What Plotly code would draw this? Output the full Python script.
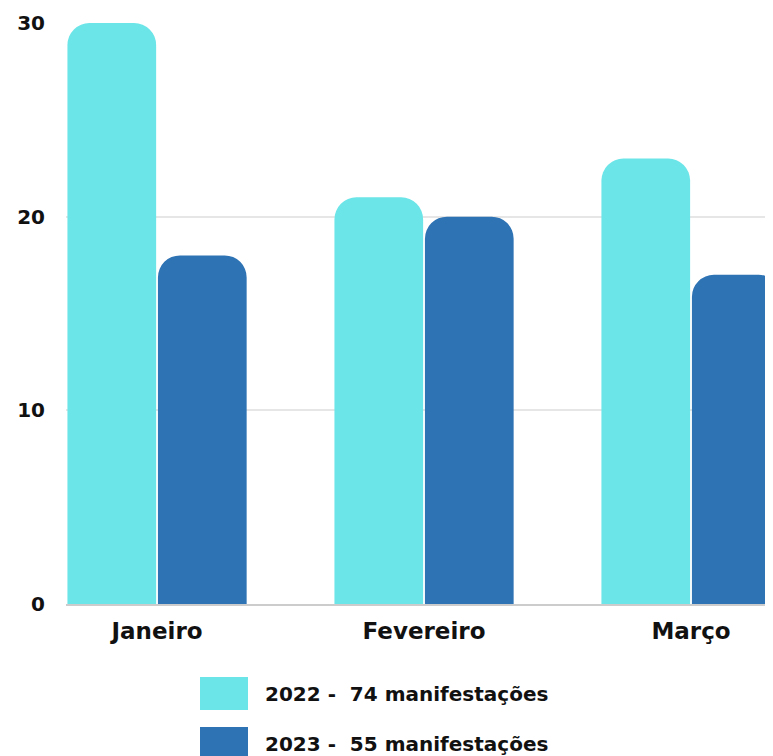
import plotly.graph_objects as go

categories = ["Janeiro", "Fevereiro", "Março"]
values_2022 = [30, 21, 23]
values_2023 = [18, 20, 17]
legend_2022 = "2022 -  74 manifestações"
legend_2023 = "2023 -  55 manifestações"
y_ticks = [0, 10, 20, 30]

c2022 = "#6CE5E8"
c2023 = "#2E73B4"
font_family = "DejaVu Sans"

fig = go.Figure()
fig.add_trace(go.Bar(x=categories, y=values_2022, name=legend_2022,
                     marker=dict(color=c2022, cornerradius=22, line=dict(width=0))))
fig.add_trace(go.Bar(x=categories, y=values_2023, name=legend_2023,
                     marker=dict(color=c2023, cornerradius=22, line=dict(width=0))))

# page body has an 8px margin, so figure coordinates are offset by 8px
OFF = 8
W, H = 773, 756
L, R, T, B = 66 - OFF, 0, 23 - OFF, 152 + OFF
pw, ph = W - L - R, H - T - B

def px(x):
    return (x - OFF - L) / pw

def py(y):
    return (H - B - (y - OFF)) / ph

# manual legend
for (y0, y1, col, txt) in [(677, 710, c2022, legend_2022), (727, 760, c2023, legend_2023)]:
    fig.add_shape(type="rect", xref="paper", yref="paper",
                  x0=px(200), x1=px(248), y0=py(y1), y1=py(y0),
                  fillcolor=col, line=dict(width=0))
    fig.add_annotation(xref="paper", yref="paper", x=px(263), y=py((y0 + y1) / 2),
                       text=txt, showarrow=False, xanchor="left", yanchor="middle",
                       font=dict(family=font_family, size=20, color="#111", weight="bold"))

fig.update_layout(
    width=W, height=H,
    margin=dict(l=L, r=R, t=T, b=B),
    plot_bgcolor="white", paper_bgcolor="white",
    barmode="group", bargap=0.322, bargroupgap=0.02,
    showlegend=False,
    font=dict(family=font_family, color="#111"),
)
fig.update_xaxes(range=[-0.341, 2.337], showgrid=False, showline=True, linecolor="#cccccc",
                 linewidth=1.5, ticks="", ticklabelstandoff=6,
                 tickfont=dict(family=font_family, size=23, color="#111", weight="bold"))
fig.update_yaxes(range=[0, 30], tickvals=y_ticks, showgrid=True, gridcolor="#e6e6e6",
                 gridwidth=1.5, zeroline=False, showline=False, ticks="", ticklabelstandoff=20,
                 tickfont=dict(family=font_family, size=20, color="#111", weight="bold"))

fig.write_html("out.html")
